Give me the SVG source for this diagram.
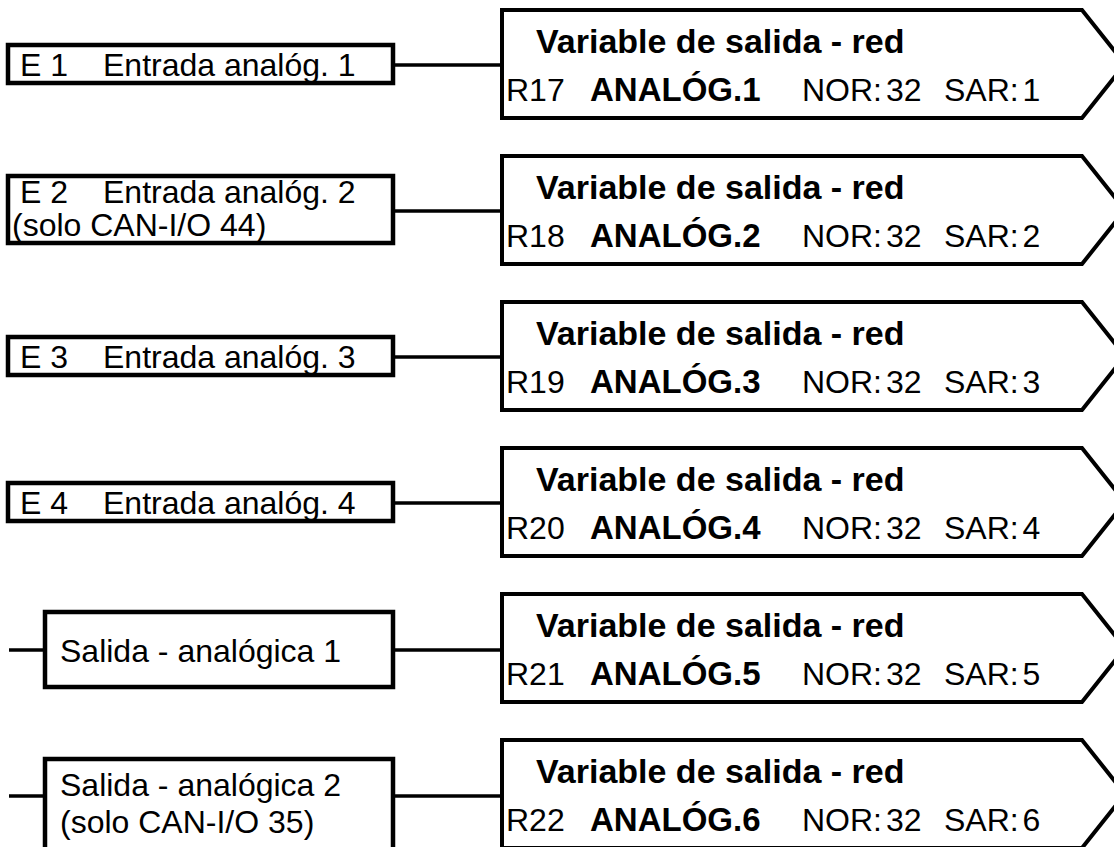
<svg xmlns="http://www.w3.org/2000/svg" width="1114" height="847" viewBox="0 0 1114 847">
<style>
.box{fill:#fff;stroke:#000;stroke-width:4.5}
.out{fill:#fff;stroke:#000;stroke-width:4;stroke-linejoin:miter}
.ln{stroke:#000;stroke-width:3.5;fill:none}
text{font-family:"Liberation Sans",Arial,sans-serif;font-size:32px;fill:#000}
.b{font-weight:bold;font-size:33px}
.t{font-weight:bold;font-size:34px}
.n{word-spacing:-5px}
</style>
<rect width="1114" height="847" fill="#fff"/>
<g id="connectors">
<line class="ln" x1="393" y1="65" x2="502" y2="65"/>
<line class="ln" x1="393" y1="211" x2="502" y2="211"/>
<line class="ln" x1="393" y1="357" x2="502" y2="357"/>
<line class="ln" x1="393" y1="503" x2="502" y2="503"/>
<line class="ln" x1="393" y1="650" x2="502" y2="650"/>
<line class="ln" x1="9" y1="650" x2="45" y2="650"/>
<line class="ln" x1="393" y1="796" x2="502" y2="796"/>
<line class="ln" x1="9" y1="796" x2="45" y2="796"/>
</g>
<g id="in1"><rect class="box" x="8" y="45" width="385" height="38"/><text x="20" y="76">E 1</text><text x="103" y="76">Entrada analóg. 1</text></g>
<g id="in2"><rect class="box" x="8" y="176" width="385" height="67"/><text x="20" y="203">E 2</text><text x="103" y="203">Entrada analóg. 2</text><text x="12" y="236">(solo CAN-I/O 44)</text></g>
<g id="in3"><rect class="box" x="8" y="337" width="385" height="38"/><text x="20" y="368">E 3</text><text x="103" y="368">Entrada analóg. 3</text></g>
<g id="in4"><rect class="box" x="8" y="483" width="385" height="38"/><text x="20" y="514">E 4</text><text x="103" y="514">Entrada analóg. 4</text></g>
<g id="out1"><rect class="box" x="45" y="612" width="348" height="75"/><text x="60" y="662">Salida - analógica 1</text></g>
<g id="out2"><rect class="box" x="45" y="759" width="348" height="100"/><text x="60" y="796">Salida - analógica 2</text><text x="60" y="833">(solo CAN-I/O 35)</text></g>
<g id="net1"><path class="out" d="M502,10 H1082 L1125,64 L1082,118 H502 Z"/><text class="t" x="536" y="53">Variable de salida - red</text><text x="506" y="101">R17</text><text class="b" x="590" y="101">ANALÓG.1</text><text class="n" x="802" y="101">NOR: 32</text><text class="n" x="944" y="101">SAR: 1</text></g>
<g id="net2"><path class="out" d="M502,156 H1082 L1125,210 L1082,264 H502 Z"/><text class="t" x="536" y="199">Variable de salida - red</text><text x="506" y="247">R18</text><text class="b" x="590" y="247">ANALÓG.2</text><text class="n" x="802" y="247">NOR: 32</text><text class="n" x="944" y="247">SAR: 2</text></g>
<g id="net3"><path class="out" d="M502,302 H1082 L1125,356 L1082,410 H502 Z"/><text class="t" x="536" y="345">Variable de salida - red</text><text x="506" y="393">R19</text><text class="b" x="590" y="393">ANALÓG.3</text><text class="n" x="802" y="393">NOR: 32</text><text class="n" x="944" y="393">SAR: 3</text></g>
<g id="net4"><path class="out" d="M502,448 H1082 L1125,502 L1082,556 H502 Z"/><text class="t" x="536" y="491">Variable de salida - red</text><text x="506" y="539">R20</text><text class="b" x="590" y="539">ANALÓG.4</text><text class="n" x="802" y="539">NOR: 32</text><text class="n" x="944" y="539">SAR: 4</text></g>
<g id="net5"><path class="out" d="M502,594 H1082 L1125,648 L1082,702 H502 Z"/><text class="t" x="536" y="637">Variable de salida - red</text><text x="506" y="685">R21</text><text class="b" x="590" y="685">ANALÓG.5</text><text class="n" x="802" y="685">NOR: 32</text><text class="n" x="944" y="685">SAR: 5</text></g>
<g id="net6"><path class="out" d="M502,740 H1082 L1125,794 L1082,848 H502 Z"/><text class="t" x="536" y="783">Variable de salida - red</text><text x="506" y="831">R22</text><text class="b" x="590" y="831">ANALÓG.6</text><text class="n" x="802" y="831">NOR: 32</text><text class="n" x="944" y="831">SAR: 6</text></g>
</svg>
